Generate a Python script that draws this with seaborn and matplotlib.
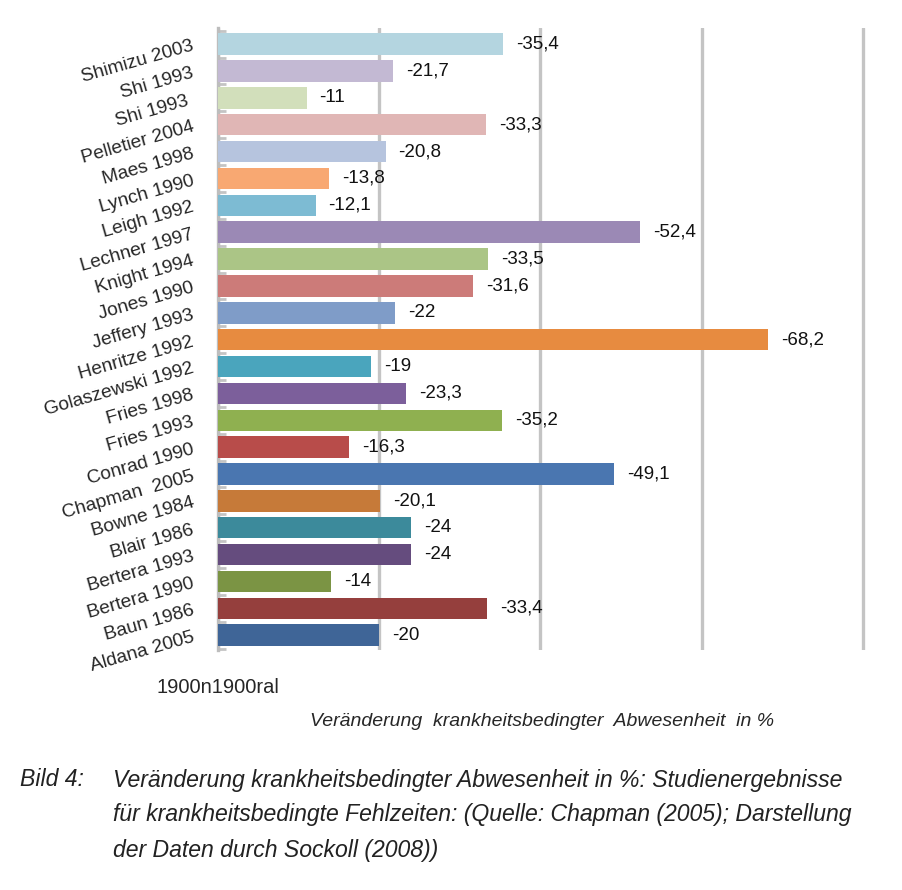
import matplotlib
matplotlib.use("Agg")
import matplotlib.pyplot as plt
import seaborn as sns
import pandas as pd

# Data (top to bottom, as in the chart)
studies = ["Shimizu 2003", "Shi 1993", "Shi 1993 ", "Pelletier 2004", "Maes 1998",
           "Lynch 1990", "Leigh 1992", "Lechner 1997", "Knight 1994", "Jones 1990",
           "Jeffery 1993", "Henritze 1992", "Golaszewski 1992", "Fries 1998",
           "Fries 1993", "Conrad 1990", "Chapman  2005", "Bowne 1984", "Blair 1986",
           "Bertera 1993", "Bertera 1990", "Baun 1986", "Aldana 2005"]
change = [-35.4, -21.7, -11, -33.3, -20.8, -13.8, -12.1, -52.4, -33.5, -31.6,
          -22, -68.2, -19, -23.3, -35.2, -16.3, -49.1, -20.1, -24, -24, -14,
          -33.4, -20]
bar_colors = ["#b4d5e0", "#c3b9d3", "#d2dfbb", "#e0b6b5", "#b6c4de", "#f8a872",
              "#7dbbd3", "#9b89b5", "#abc586", "#cc7b79", "#7f9cc8", "#e78b40",
              "#4aa5bd", "#7c5f9b", "#8fb050", "#b84c4a", "#4a76b0", "#c67a39",
              "#3c8a9b", "#654c7e", "#7b9444", "#953f3d", "#3f6597"]
x_ticks = [0, 20, 40, 60, 80]
x_ticklabels = ["1900n1900ral", "", "", "", ""]

df = pd.DataFrame({"Studie": studies, "Change": change})
df["Betrag"] = -df["Change"]

sns.set_theme(style="white")
plt.rcParams['font.family'] = ['Liberation Sans', 'DejaVu Sans']

fig = plt.figure(figsize=(9.03, 8.9), dpi=100)
# x range 0..80.5 so the last grid line is not clipped
px_per_unit = (863 - 218) / 80
ax = fig.add_axes([218 / 903, 1 - 650 / 890, 80.5 * px_per_unit / 903, (650 - 28) / 890])

sns.barplot(data=df, x="Betrag", y="Studie", hue="Studie", palette=bar_colors,
            legend=False, width=0.8, ax=ax, zorder=3, saturation=1, linewidth=0)

ax.set_xlim(0, 80.5)
ax.set_ylim(len(studies) - 0.45, -0.6)
ax.set_xticks(x_ticks)
ax.set_xticklabels(x_ticklabels, fontsize=14.5)
ax.tick_params(axis="x", length=0, pad=20)
ax.xaxis.grid(True, color="#c4c4c4", linewidth=2.4, zorder=0)
ax.set_axisbelow(True)

for s in ["top", "right", "bottom"]:
    ax.spines[s].set_visible(False)
ax.spines["left"].set_color("#bdbdbd")
ax.spines["left"].set_linewidth(2.4)

# category labels, rotated
ax.set_ylabel("")
ax.set_yticks(range(len(studies)))
ax.set_yticklabels(studies, rotation=16, ha="right", rotation_mode="anchor",
                   fontsize=13.8)
ax.tick_params(axis="y", length=0, pad=18)
ax.set_yticks([i - 0.5 for i in range(len(studies) + 1)], minor=True)
ax.tick_params(axis="y", which="minor", left=True, direction="in", length=6,
               width=2, color="#c4c4c4")

# value labels
for i, v in enumerate(change):
    lbl = ("%g" % v).replace(".", ",")
    ax.text(-v + 1.6, i, lbl, va="center", ha="left", fontsize=13.5,
            color="#111111")

ax.set_xlabel("Veränderung  krankheitsbedingter  Abwesenheit  in %",
              fontsize=14, style="italic", labelpad=12)

cap = {"fontsize": 16.6, "style": "italic", "color": "#222222"}
fig.text(20 / 903, 1 - 780 / 890, "Bild 4:", va="center", ha="left", **cap)
fig.text(113 / 903, 1 - 780 / 890,
         "Veränderung krankheitsbedingter Abwesenheit in %: Studienergebnisse",
         va="center", ha="left", **cap)
fig.text(113 / 903, 1 - 815 / 890,
         "für krankheitsbedingte Fehlzeiten: (Quelle: Chapman (2005); Darstellung",
         va="center", ha="left", **cap)
fig.text(113 / 903, 1 - 850 / 890, "der Daten durch Sockoll (2008))",
         va="center", ha="left", **cap)

fig.savefig("out.png", dpi=100, facecolor="white")
